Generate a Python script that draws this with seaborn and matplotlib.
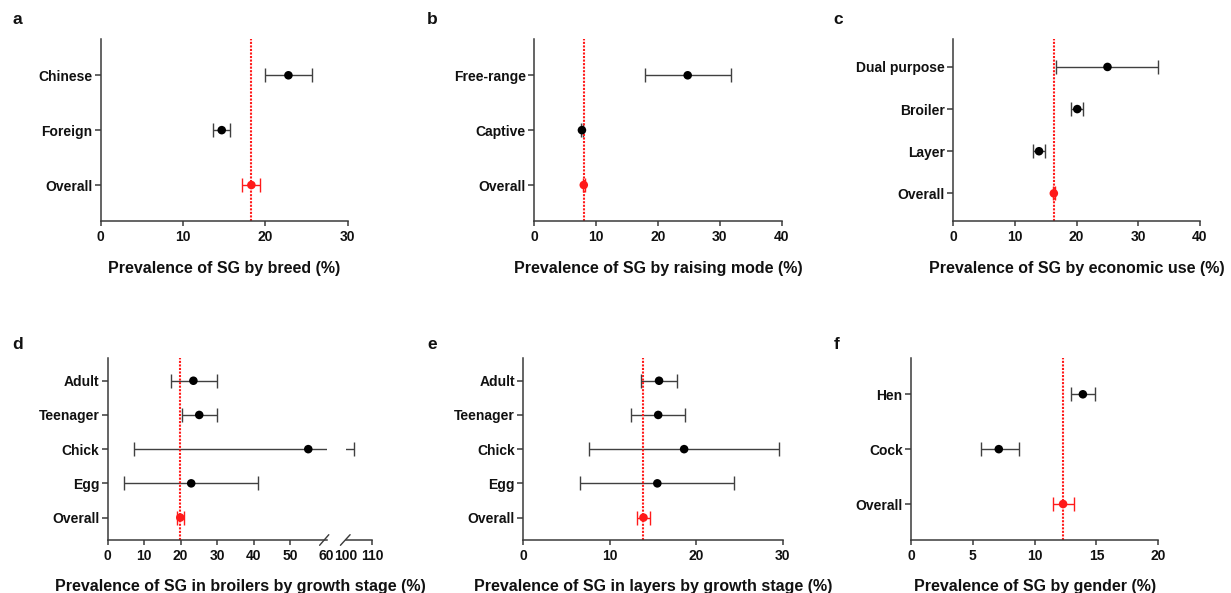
import numpy as np
import pandas as pd
import matplotlib
matplotlib.use("Agg")
import matplotlib.pyplot as plt
import seaborn as sns

# ---------------- data ----------------
# a: breed
breed_cats = ["Chinese", "Foreign", "Overall"]
breed_mean = [22.8, 14.7, 18.3]
breed_lo = [19.9, 13.6, 17.2]
breed_hi = [25.7, 15.7, 19.3]

# b: raising mode
mode_cats = ["Free-range", "Captive", "Overall"]
mode_mean = [24.8, 7.7, 8.0]
mode_lo = [17.9, 7.5, 7.8]
mode_hi = [31.8, 7.9, 8.2]

# c: economic use
use_cats = ["Dual purpose", "Broiler", "Layer", "Overall"]
use_mean = [25.0, 20.1, 13.9, 16.3]
use_lo = [16.7, 19.1, 13.0, 16.1]
use_hi = [33.2, 21.1, 14.8, 16.5]

# d: broilers by growth stage
brs_cats = ["Adult", "Teenager", "Chick", "Egg", "Overall"]
brs_mean = [23.5, 25.1, 55.0, 22.9, 19.9]
brs_lo = [17.3, 20.3, 7.2, 4.5, 18.9]
brs_hi = [30.0, 30.1, 103.2, 41.3, 20.9]

# e: layers by growth stage
lys_cats = ["Adult", "Teenager", "Chick", "Egg", "Overall"]
lys_mean = [15.7, 15.6, 18.6, 15.5, 13.9]
lys_lo = [13.6, 12.5, 7.6, 6.6, 13.1]
lys_hi = [17.8, 18.7, 29.6, 24.4, 14.7]

# f: gender
gen_cats = ["Hen", "Cock", "Overall"]
gen_mean = [13.9, 7.1, 12.3]
gen_lo = [12.9, 5.7, 11.5]
gen_hi = [14.9, 8.7, 13.2]

xlabels = {
    "a": "Prevalence of SG by breed (%)",
    "b": "Prevalence of SG by raising mode (%)",
    "c": "Prevalence of SG by economic use (%)",
    "d": "Prevalence of SG in broilers by growth stage (%)",
    "e": "Prevalence of SG in layers by growth stage (%)",
    "f": "Prevalence of SG by gender (%)",
}

# ---------------- style ----------------
sns.set_theme(style="ticks")
plt.rcParams["font.family"] = ["Liberation Sans", "DejaVu Sans"]
plt.rcParams["font.weight"] = "bold"

SPINE = "#3a3a3a"
BAR = "#404040"
RED = "#ff1a1a"

W, H = 1231, 593
fig = plt.figure(figsize=(W / 100, H / 100), dpi=100)


def box(x0, x1, y0, y1):
    return [x0 / W, 1 - y1 / H, (x1 - x0) / W, (y1 - y0) / H]


def style_axes(ax, n, hide_left=False):
    for s in ["top", "right"]:
        ax.spines[s].set_visible(False)
    for s in ["left", "bottom"]:
        ax.spines[s].set_color(SPINE)
        ax.spines[s].set_linewidth(1.1)
    ax.tick_params(axis="x", direction="out", length=3.8, width=1.1,
                   color=SPINE, pad=3, labelsize=10, labelcolor="#111111")
    ax.tick_params(axis="y", direction="out", length=4.0, width=1.1,
                   color=SPINE, pad=2, labelsize=10, labelcolor="#111111")
    ax.set_ylim(n - 1 + 0.656, -0.656)
    ax.set_xlabel("")
    ax.set_ylabel("")
    if hide_left:
        ax.spines["left"].set_visible(False)
        ax.tick_params(axis="y", left=False, labelleft=False)
    for lab in ax.get_xticklabels() + ax.get_yticklabels():
        lab.set_fontweight("bold")


def draw(ax, cats, mean, lo, hi, xlim, xticks, line=True, hide_left=False):
    n = len(cats)
    df = pd.DataFrame({"cat": cats, "mean": mean, "lo": lo, "hi": hi})
    df["pos"] = np.arange(n)
    df["grp"] = np.where(df["cat"] == "Overall", "overall", "sub")
    for _, r in df.iterrows():
        col = RED if r["grp"] == "overall" else BAR
        ax.errorbar([r["mean"]], [r["pos"]],
                    xerr=[[r["mean"] - r["lo"]], [r["hi"] - r["mean"]]],
                    fmt="none", ecolor=col, elinewidth=1.0, capsize=5,
                    capthick=1.0, zorder=2)
    if line:
        ov = df.loc[df["grp"] == "overall", "mean"].iloc[0]
        ax.axvline(ov, color=RED, lw=1.5, ls=(0, (1.0, 0.7)), zorder=2.5)
    sns.scatterplot(data=df, x="mean", y="pos", hue="grp",
                    palette={"sub": "black", "overall": RED},
                    s=38, linewidth=0, legend=False, ax=ax, zorder=3)
    ax.set_xlim(*xlim)
    ax.set_xticks(xticks)
    ax.set_xticklabels([str(t) for t in xticks])
    ax.set_yticks(np.arange(n))
    ax.set_yticklabels(cats)
    style_axes(ax, n, hide_left=hide_left)


TOP = (39.3, 221)
BOT = (358.3, 540)

ax_a = fig.add_axes(box(100.7, 347.7, *TOP))
draw(ax_a, breed_cats, breed_mean, breed_lo, breed_hi, (0, 30), [0, 10, 20, 30])

ax_b = fig.add_axes(box(534.3, 781.7, *TOP))
draw(ax_b, mode_cats, mode_mean, mode_lo, mode_hi, (0, 40), [0, 10, 20, 30, 40])

ax_c = fig.add_axes(box(953.3, 1200, *TOP))
draw(ax_c, use_cats, use_mean, use_lo, use_hi, (0, 40), [0, 10, 20, 30, 40])

ax_d1 = fig.add_axes(box(107.7, 326.5, *BOT))
draw(ax_d1, brs_cats, brs_mean, brs_lo, brs_hi, (0, 60), [0, 10, 20, 30, 40, 50, 60])
ax_d2 = fig.add_axes(box(345.5, 372.3, *BOT))
draw(ax_d2, brs_cats, brs_mean, brs_lo, brs_hi, (100, 110), [100, 110],
     line=False, hide_left=True)
ax_d1.get_xaxis().get_major_ticks()[-1].tick1line.set_visible(False)
ax_d2.get_xaxis().get_major_ticks()[0].tick1line.set_visible(False)
# break marks
dx, dy = 4.6 / (326.5 - 107.7), 5.3 / (540 - 358.3)
ax_d1.plot([1 - dx * 1.5, 1 + dx * 0.5], [-dy, dy], transform=ax_d1.transAxes,
           color=SPINE, lw=1.0, clip_on=False)
dx2 = 4.6 / (372.3 - 345.5)
ax_d2.plot([-dx2 * 1.1, dx2 * 1.0], [-dy, dy], transform=ax_d2.transAxes,
           color=SPINE, lw=1.0, clip_on=False)

ax_e = fig.add_axes(box(523.3, 782.7, *BOT))
draw(ax_e, lys_cats, lys_mean, lys_lo, lys_hi, (0, 30), [0, 10, 20, 30])

ax_f = fig.add_axes(box(911, 1158.3, *BOT))
draw(ax_f, gen_cats, gen_mean, gen_lo, gen_hi, (0, 20), [0, 5, 10, 15, 20])

# x labels
label_pos = {
    "a": ((100.7 + 347.7) / 2, 272.5),
    "b": ((534.3 + 781.7) / 2, 272.5),
    "c": ((953.3 + 1200) / 2, 272.5),
    "d": ((107.7 + 372.3) / 2, 590.5),
    "e": ((523.3 + 782.7) / 2, 590.5),
    "f": ((911 + 1158.3) / 2, 590.5),
}
for k, (x, y) in label_pos.items():
    fig.text(x / W, 1 - y / H, xlabels[k], ha="center", va="baseline",
             fontsize=11.5, fontweight="bold", color="#111111")

# panel letters
letters = {"a": (12.3, 24), "b": (427.3, 24), "c": (833.3, 24),
           "d": (12.7, 349), "e": (427.3, 349), "f": (834, 349)}
for k, (x, y) in letters.items():
    fig.text(x / W, 1 - y / H, k, ha="left", va="baseline",
             fontsize=12.5, fontweight="bold", color="#111111")

fig.savefig("out.png", dpi=100)
